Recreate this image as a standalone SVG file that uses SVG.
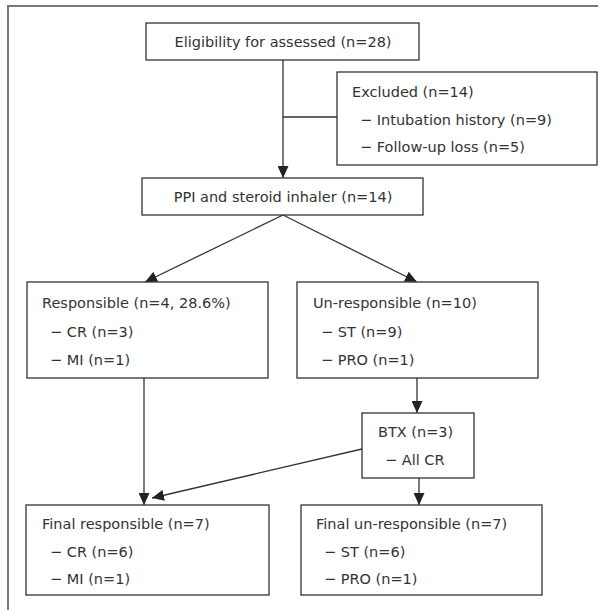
<svg xmlns="http://www.w3.org/2000/svg" width="607" height="610" viewBox="0 0 607 610">
<defs>
<marker id="ah" markerUnits="userSpaceOnUse" markerWidth="12" markerHeight="11" refX="12" refY="5.5" orient="auto">
<path d="M0,0 L12,5.5 L0,11 z" fill="#222"/>
</marker>
<style>
.box{fill:#fff;stroke:#333;stroke-width:1.3}
.t{font-family:"DejaVu Sans",sans-serif;font-size:14.5px;fill:#333}
.c{text-anchor:middle}
.ln{stroke:#333;stroke-width:1.3;fill:none}
.fr{stroke:#777;stroke-width:2;fill:none}
</style>
</defs>
<rect width="607" height="610" fill="#fff"/>
<path class="fr" d="M8,610 L8,6 L598,6"/>
<g id="connectors">
<line class="ln" x1="283" y1="60" x2="283" y2="178" marker-end="url(#ah)"/>
<line class="ln" x1="283" y1="117" x2="337" y2="117"/>
<line class="ln" x1="283" y1="215" x2="145" y2="282" marker-end="url(#ah)"/>
<line class="ln" x1="283" y1="215" x2="417" y2="282" marker-end="url(#ah)"/>
<line class="ln" x1="144" y1="378" x2="144" y2="505" marker-end="url(#ah)"/>
<line class="ln" x1="417" y1="378" x2="417" y2="413" marker-end="url(#ah)"/>
<line class="ln" x1="362" y1="449" x2="152" y2="498" marker-end="url(#ah)"/>
<line class="ln" x1="419" y1="478" x2="419" y2="505" marker-end="url(#ah)"/>
</g>
<g id="eligibility">
<rect class="box" x="146" y="23" width="273" height="37"/>
<text class="t c" x="283" y="47">Eligibility for assessed (n=28)</text>
</g>
<g id="excluded">
<rect class="box" x="337" y="72" width="260" height="93"/>
<text class="t" x="352" y="97">Excluded (n=14)</text>
<text class="t" x="360" y="125">− Intubation history (n=9)</text>
<text class="t" x="360" y="152">− Follow-up loss (n=5)</text>
</g>
<g id="ppi">
<rect class="box" x="142" y="178" width="281" height="37"/>
<text class="t c" x="283" y="202">PPI and steroid inhaler (n=14)</text>
</g>
<g id="responsible">
<rect class="box" x="27" y="282" width="241" height="96"/>
<text class="t" x="42" y="308">Responsible (n=4, 28.6%)</text>
<text class="t" x="50" y="337">− CR (n=3)</text>
<text class="t" x="50" y="365">− MI (n=1)</text>
</g>
<g id="unresponsible">
<rect class="box" x="297" y="282" width="241" height="96"/>
<text class="t" x="313" y="308">Un-responsible (n=10)</text>
<text class="t" x="321" y="337">− ST (n=9)</text>
<text class="t" x="321" y="365">− PRO (n=1)</text>
</g>
<g id="btx">
<rect class="box" x="362" y="413" width="112" height="65"/>
<text class="t" x="378" y="437">BTX (n=3)</text>
<text class="t" x="385" y="465">− All CR</text>
</g>
<g id="final-responsible">
<rect class="box" x="26" y="505" width="243" height="90"/>
<text class="t" x="42" y="529">Final responsible (n=7)</text>
<text class="t" x="50" y="557">− CR (n=6)</text>
<text class="t" x="50" y="584">− MI (n=1)</text>
</g>
<g id="final-unresponsible">
<rect class="box" x="301" y="505" width="241" height="90"/>
<text class="t" x="316" y="529">Final un-responsible (n=7)</text>
<text class="t" x="324" y="557">− ST (n=6)</text>
<text class="t" x="324" y="584">− PRO (n=1)</text>
</g>
</svg>
